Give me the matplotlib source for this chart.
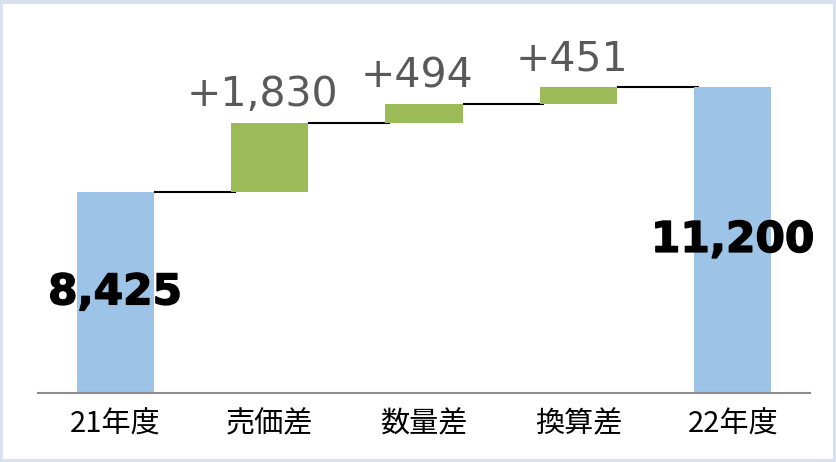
import matplotlib
matplotlib.use("Agg")
import matplotlib.pyplot as plt
import matplotlib.patheffects as pe
from matplotlib.patches import Rectangle

categories = ["21年度", "売価差", "数量差", "換算差", "22年度"]
start_value = 8425
deltas = [1830, 494, 451]
end_value = 11200

blue = "#9dc3e6"
green = "#9bbb59"

fig = plt.figure(figsize=(8.37, 4.62), dpi=100)
fig.patch.set_facecolor("#d9e1ee")
fig.patches.append(Rectangle((3 / 837, 3 / 462), 830 / 837, 455 / 462,
                             transform=fig.transFigure, facecolor="white",
                             edgecolor="none", zorder=-10))

ax = fig.add_axes([38 / 837, 69 / 462, 772 / 837, 378 / 462])
ax.set_facecolor("none")
ax.set_zorder(5)

ymin, ymax = 3100, 13100
x = list(range(len(categories)))
w = 0.5

# totals
ax.bar(x[0], start_value - ymin, bottom=ymin, width=w, color=blue, zorder=2)
ax.bar(x[-1], end_value - ymin, bottom=ymin, width=w, color=blue, zorder=2)

level = start_value
levels = [start_value]
for i, d in enumerate(deltas):
    ax.bar(x[i + 1], d, bottom=level, width=w, color=green, zorder=2)
    ax.annotate(f"+{d:,}", xy=(x[i + 1], level + d), xytext=(-5, 12),
                textcoords="offset points", ha="center", va="baseline",
                fontsize=29.5, color="#595959", family="DejaVu Sans", zorder=3,
                annotation_clip=False)
    level += d
    levels.append(level)

# connectors
for i, lv in enumerate(levels):
    ax.hlines(lv, x[i] + w / 2, x[i + 1] - w / 2 + 0.03, color="black",
              linewidth=1.5, zorder=1)

# total labels
for xi, val in [(x[0], start_value), (x[-1], end_value)]:
    ax.text(xi, (ymin + val) / 2, f"{val:,}", ha="center", va="center",
            fontsize=30.5, fontweight="bold", color="black",
            family="DejaVu Sans", zorder=3,
            path_effects=[pe.withStroke(linewidth=1.0, foreground="black")])

ax.set_xlim(-0.5, len(categories) - 0.5)
ax.set_ylim(ymin, ymax)
ax.set_xticks(x)
ax.set_xticklabels(categories, fontsize=21, family=["Noto Sans CJK JP", "DejaVu Sans"])
ax.tick_params(axis="x", length=0, pad=12)
ax.set_yticks([])
for s in ["top", "left", "right"]:
    ax.spines[s].set_visible(False)
ax.spines["bottom"].set_color("#8c8c8c")
ax.spines["bottom"].set_linewidth(1.5)
ax.spines["bottom"].set_zorder(4)

fig.savefig("out.png", dpi=100, facecolor=fig.get_facecolor())
